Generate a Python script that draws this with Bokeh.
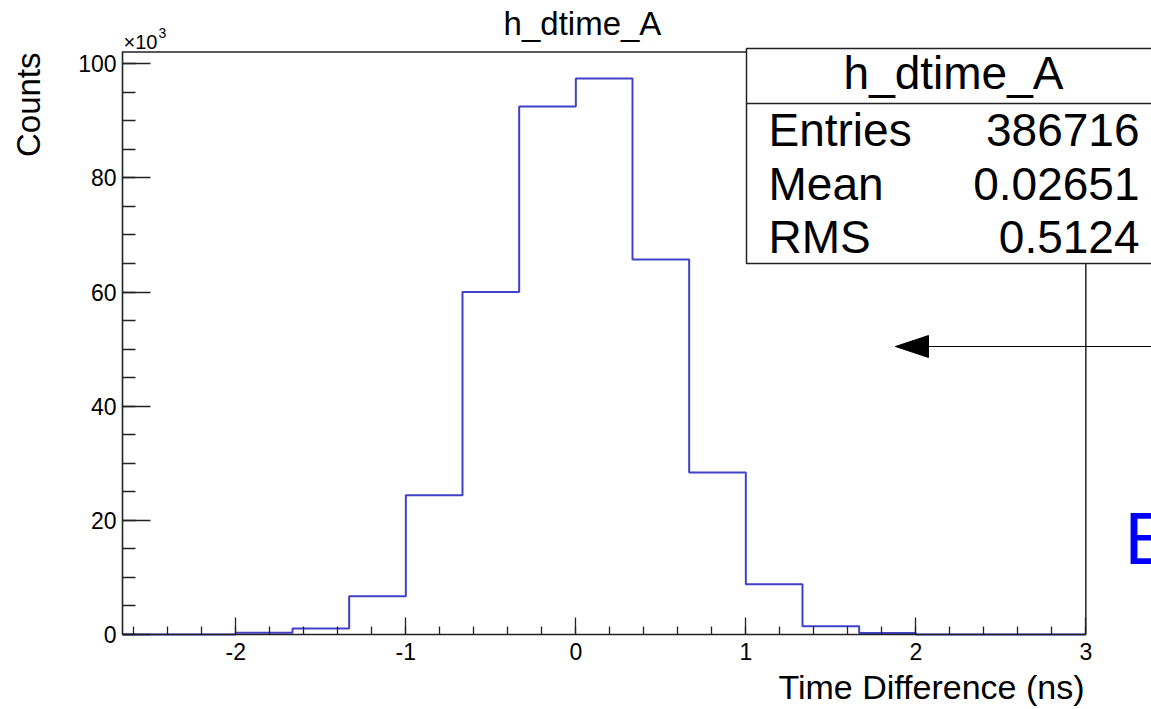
import numpy as np
from bokeh.plotting import figure
from bokeh.models import Range1d, SingleIntervalTicker, Label, LinearAxis, CustomJSTickFormatter
from bokeh.embed import file_html
from bokeh.resources import INLINE

# ---- data (counts in units of 10^3) ----
hist_name = "h_dtime_A"
bin_start = -8.0 / 3.0
bin_width = 1.0 / 3.0
counts_k = [0.0, 0.0, 0.3, 1.05, 6.7, 24.4, 60.0, 92.5, 97.4, 65.7,
            28.4, 8.8, 1.45, 0.25, 0.02, 0.0, 0.0]
x_axis_end = 3.0
y_frame_max = 102.05
stats_labels = ["Entries", "Mean", "RMS"]
stats_values = ["386716", "0.02651", "0.5124"]
x_title = "Time Difference (ns)"
y_title = "Counts"

# ---- layout (pixel geometry of the ROOT canvas) ----
W, H = 1151, 709
ORIGIN_PX, ORIGIN_PY = 122, 634     # pixel of (x=bin_start, y=0)
PXX, PXY = 170.0, 5.708             # pixels per unit
FONT = "Liberation Sans"


def dx(px):
    return bin_start + (px - ORIGIN_PX) / PXX


def dy(py):
    return (ORIGIN_PY - py) / PXY


p = figure(width=W, height=H, x_range=Range1d(dx(0), dx(W)),
           y_range=Range1d(dy(H), dy(0)),
           output_backend="svg", toolbar_location=None,
           min_border=0, min_border_left=0, min_border_right=0,
           min_border_top=0, min_border_bottom=0,
           x_axis_type=None, y_axis_type=None)
p.title.visible = False
p.outline_line_color = None
p.background_fill_color = "white"
p.border_fill_color = "white"

fmt = CustomJSTickFormatter(code="return String(Math.round(tick));")
xaxis = LinearAxis(ticker=SingleIntervalTicker(interval=1, num_minor_ticks=5),
                   bounds=(bin_start, x_axis_end), fixed_location=0.0,
                   formatter=fmt)
yaxis = LinearAxis(ticker=SingleIntervalTicker(interval=20, num_minor_ticks=4),
                   bounds=(0, y_frame_max), fixed_location=bin_start,
                   formatter=fmt)
for ax in (xaxis, yaxis):
    ax.axis_line_color = "#222222"
    ax.axis_line_width = 1.6
    ax.major_tick_line_color = "#222222"
    ax.minor_tick_line_color = "#222222"
    ax.major_tick_line_width = 1.3
    ax.minor_tick_line_width = 1.3
    ax.major_tick_out = 0
    ax.minor_tick_out = 0
    ax.major_label_text_font = FONT
    ax.major_label_text_font_size = "23px"
    ax.major_label_text_color = "black"
xaxis.major_tick_in = 17
xaxis.minor_tick_in = 8
xaxis.major_label_standoff = 8
yaxis.major_tick_in = 28
yaxis.minor_tick_in = 13
yaxis.major_label_standoff = 6

# histogram outline
edges = bin_start + np.arange(len(counts_k) + 1) * bin_width
xs = np.repeat(edges, 2)
ys = np.concatenate([[0.0], np.repeat(np.array(counts_k), 2), [0.0]])
p.line(xs, ys, line_color="#4040c8", line_width=2)

# frame top and right
p.segment(x0=[bin_start, x_axis_end], y0=[y_frame_max, 0],
          x1=[x_axis_end, x_axis_end], y1=[y_frame_max, y_frame_max],
          line_color="#222222", line_width=1.5)

# arrow
p.segment(x0=[dx(895)], y0=[dy(346)], x1=[dx(1170)], y1=[dy(346)],
          line_color="black", line_width=1.2)
p.patch([dx(895), dx(928), dx(928)], [dy(346), dy(335), dy(357)],
        fill_color="black", line_color="black", line_width=1)

# stats box
p.quad(left=[dx(746)], right=[dx(1180)], top=[dy(48)], bottom=[dy(263)],
       fill_color="white", line_color="#222222", line_width=1.5)
p.segment(x0=[dx(746)], y0=[dy(103)], x1=[dx(1180)], y1=[dy(103)],
          line_color="#222222", line_width=1.5)

p.add_layout(xaxis, "below")
p.add_layout(yaxis, "left")


def lab(px, base_py, text, size, align="left", color="black", angle=0.0):
    if angle == 0.0:
        x, y = dx(px), dy(base_py - 0.35 * size)
    else:
        x, y = dx(px - 0.35 * size), dy(base_py)
    p.add_layout(Label(x=x, y=y, text=text, text_font=FONT,
                       text_font_size=f"{size}px", text_align=align,
                       text_baseline="middle", text_color=color,
                       angle=angle))


lab(953, 89, hist_name, 46, "center")
for i, (l, v) in enumerate(zip(stats_labels, stats_values)):
    lab(768, 146 + 53.5 * i, l, 46, "left")
    lab(1139, 146 + 53.5 * i, v, 46, "right")

lab(582, 35, hist_name, 33, "center")
lab(1084, 698, x_title, 34, "right")
lab(40, 52, y_title, 33, "right", angle=np.pi / 2)
lab(123, 48, "\u00d710", 20, "left")
lab(158, 37, "3", 14, "left")
lab(1124, 564, "E", 74, "left", color="#0000ff")

open("out.html", "w").write(file_html(p, INLINE))
